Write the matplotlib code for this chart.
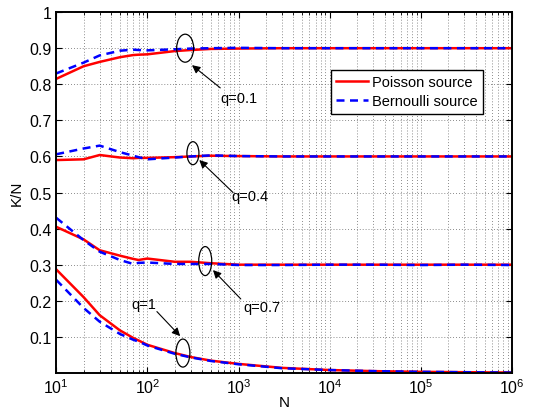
import numpy as np
import matplotlib
matplotlib.use("Agg")
import matplotlib.pyplot as plt
from matplotlib.patches import Ellipse

plt.rcParams["font.family"] = ["Liberation Sans", "DejaVu Sans"]

# ===== data =====
n_vals = [10, 20, 30, 50, 70, 80, 100, 200, 300, 500, 1000, 3000,
          1e4, 3e4, 1e5, 3e5, 1e6]

pois_q01 = [0.815, 0.850, 0.862, 0.875, 0.881, 0.882, 0.883, 0.892, 0.895,
            0.898, 0.899, 0.900, 0.900, 0.900, 0.900, 0.900, 0.900]
bern_q01 = [0.830, 0.860, 0.880, 0.893, 0.896, 0.895, 0.894, 0.897, 0.899,
            0.900, 0.901, 0.900, 0.900, 0.900, 0.900, 0.900, 0.900]

pois_q04 = [0.590, 0.592, 0.604, 0.597, 0.595, 0.596, 0.596, 0.598, 0.600,
            0.602, 0.601, 0.600, 0.600, 0.600, 0.600, 0.600, 0.600]
bern_q04 = [0.606, 0.622, 0.630, 0.612, 0.602, 0.598, 0.592, 0.597, 0.600,
            0.603, 0.601, 0.600, 0.600, 0.600, 0.600, 0.600, 0.600]

pois_q07 = [0.405, 0.370, 0.340, 0.325, 0.316, 0.313, 0.317, 0.308, 0.308,
            0.304, 0.300, 0.300, 0.300, 0.300, 0.300, 0.300, 0.300]
bern_q07 = [0.430, 0.368, 0.336, 0.313, 0.302, 0.305, 0.306, 0.302, 0.302,
            0.302, 0.299, 0.299, 0.300, 0.300, 0.299, 0.300, 0.299]

pois_q1 = [0.287, 0.210, 0.160, 0.118, 0.097, 0.090, 0.078, 0.055, 0.044,
           0.034, 0.025, 0.014, 0.008, 0.005, 0.003, 0.002, 0.001]
bern_q1 = [0.258, 0.180, 0.142, 0.108, 0.092, 0.087, 0.076, 0.053, 0.043,
           0.033, 0.024, 0.013, 0.008, 0.005, 0.003, 0.002, 0.001]

# annotation labels
labels = ["q=0.1", "q=0.4", "q=0.7", "q=1"]

# ===== layout of annotations (axes fraction) =====
ell_xy   = [(0.283, 0.900), (0.300, 0.609), (0.327, 0.310), (0.278, 0.055)]
ell_size = [(17, 28), (12, 23), (13, 29), (14, 28)]   # pixels
tip_xy   = [(0.298, 0.853), (0.314, 0.590), (0.344, 0.285), (0.272, 0.102)]
tail_xy  = [(0.360, 0.790), (0.388, 0.500), (0.405, 0.205), (0.221, 0.170)]
text_xy  = [(0.400, 0.762), (0.425, 0.490), (0.452, 0.183), (0.193, 0.190)]

# ===== plot =====
fig = plt.figure(figsize=(5.35, 4.10), dpi=100)
ax = fig.add_axes([0.105, 0.088, 0.852, 0.880])

series = [(pois_q01, bern_q01), (pois_q04, bern_q04),
          (pois_q07, bern_q07), (pois_q1, bern_q1)]
for i, (p, b) in enumerate(series):
    ax.plot(n_vals, p, color="red", lw=1.8, label="Poisson source" if i == 0 else None)
for i, (p, b) in enumerate(series):
    ax.plot(n_vals, b, color="blue", lw=1.8, ls=(0, (3.2, 2.2)),
            label="Bernoulli source" if i == 0 else None)

ax.set_xscale("log")
ax.set_xlim(10, 1e6)
ax.set_ylim(0, 1)
ax.set_yticks(np.arange(0.1, 1.01, 0.1))
ax.set_yticklabels(["0.1", "0.2", "0.3", "0.4", "0.5", "0.6", "0.7", "0.8", "0.9", "1"])

ax.grid(True, which="major", ls=(0, (1, 2.5)), color="0.4", lw=0.6)
ax.grid(True, which="minor", axis="x", ls=(0, (1, 2.5)), color="0.4", lw=0.6)
ax.tick_params(which="both", direction="in", top=True, right=True, labelsize=11.5)
ax.tick_params(which="major", length=4)
ax.tick_params(which="minor", length=2)
for s in ax.spines.values():
    s.set_linewidth(1.4)

ax.set_xlabel("N", fontsize=11, labelpad=-1)
ax.set_ylabel("K/N", fontsize=11, labelpad=4)

bbox = ax.get_window_extent()
for lab, (ex, ey), (ew, eh), tip, tail, txy in zip(labels, ell_xy, ell_size,
                                                  tip_xy, tail_xy, text_xy):
    ax.add_patch(Ellipse((ex, ey), ew / bbox.width, eh / bbox.height,
                         transform=ax.transAxes, fill=False, ec="black", lw=0.9, zorder=5))
    ax.annotate("", xy=tip, xytext=tail, xycoords="axes fraction",
                textcoords="axes fraction",
                arrowprops=dict(arrowstyle="-|>", color="black", lw=0.8,
                                mutation_scale=12, shrinkA=0, shrinkB=0))
    ax.text(txy[0], txy[1], lab, transform=ax.transAxes, fontsize=10.5,
            ha="center", va="center")

leg = ax.legend(loc="upper right", bbox_to_anchor=(0.936, 0.839), fontsize=10.5,
                frameon=True, fancybox=False, edgecolor="black", framealpha=1,
                handlelength=2.2, borderpad=0.35, labelspacing=0.35, handletextpad=0.3,
                borderaxespad=0)
leg.get_frame().set_linewidth(1.0)

fig.savefig("out.png", dpi=100)
